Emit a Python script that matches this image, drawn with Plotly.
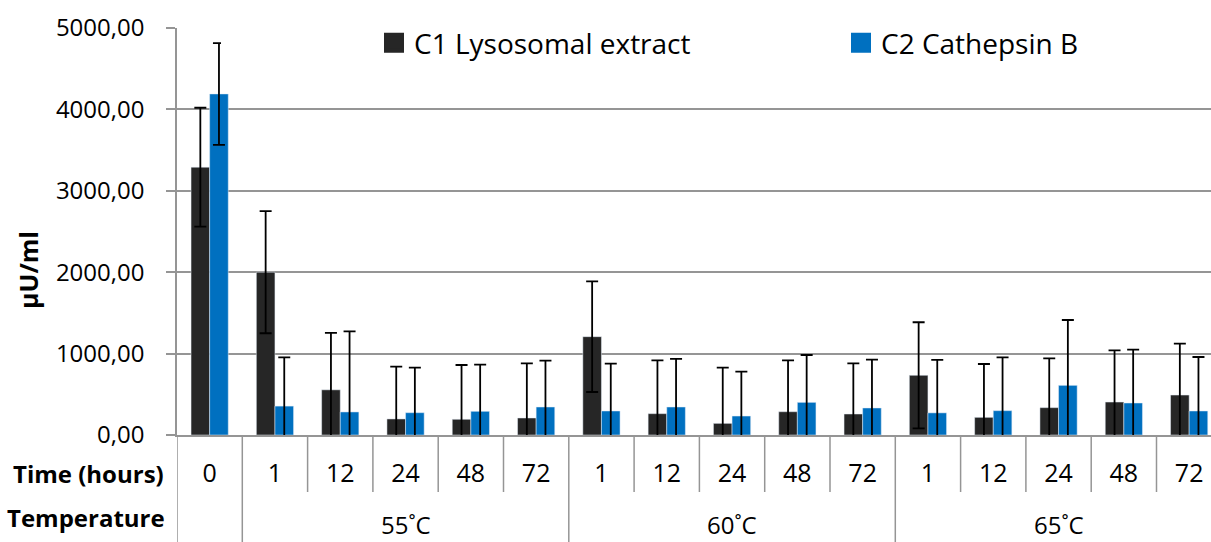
import plotly.graph_objects as go

# ---- data ----
times = ["0", "1", "12", "24", "48", "72", "1", "12", "24", "48", "72", "1", "12", "24", "48", "72"]
temps = ["", "55˚C", "55˚C", "55˚C", "55˚C", "55˚C", "60˚C", "60˚C", "60˚C", "60˚C", "60˚C",
         "65˚C", "65˚C", "65˚C", "65˚C", "65˚C"]
c1_name = "C1 Lysosomal extract"
c2_name = "C2 Cathepsin B"
c1_vals = [3290, 2000, 555, 197, 193, 209, 1208, 262, 143, 286, 258, 733, 217, 336, 405, 491]
c1_err = [730, 750, 700, 642, 667, 672, 680, 655, 684, 631, 623, 652, 655, 606, 635, 631]
c2_vals = [4190, 355, 283, 274, 291, 344, 295, 344, 233, 401, 332, 272, 299, 610, 393, 295]
c2_err = [625, 598, 990, 553, 573, 569, 581, 590, 545, 582, 593, 650, 655, 803, 655, 663]
y_ticks = [0, 1000, 2000, 3000, 4000, 5000]

C1_COLOR = "#262626"
C2_COLOR = "#0070C0"
GRID = "#959595"
FONT = "Open Sans"

W, H = 1211, 542
ML, MR, MT, MB = 177, 0, 28, 107
plot_h = H - MT - MB
plot_w = W - ML - MR
cat_w = 65.3

x_idx = list(range(len(times)))


def py(pix):
    return (H - MB - pix) / plot_h


def px(pix):
    return (pix - ML) / plot_w


fig = go.Figure()
err_style = dict(type="data", visible=True, color="black", thickness=1.8, width=6)
fig.add_trace(go.Bar(x=x_idx, y=c1_vals, name=c1_name, marker_color=C1_COLOR,
                     error_y=dict(array=c1_err, **err_style), showlegend=False))
fig.add_trace(go.Bar(x=x_idx, y=c2_vals, name=c2_name, marker_color=C2_COLOR,
                     error_y=dict(array=c2_err, **err_style), showlegend=False))
# legend entries with larger square swatches
for nm, col, lg in [(c1_name, C1_COLOR, "legend"), (c2_name, C2_COLOR, "legend2")]:
    fig.add_trace(go.Scatter(x=[None], y=[None], mode="markers", name=nm, legend=lg,
                             marker=dict(symbol="square", size=16, color=col,
                                         line=dict(color=col, width=4))))

x_right = (plot_w / cat_w) - 0.5
leg_common = dict(orientation="h", xanchor="left", y=py(43), yanchor="middle",
                  bgcolor="white", font=dict(size=28, family=FONT),
                  entrywidthmode="pixels", itemclick=False)

fig.update_layout(
    width=W, height=H,
    margin=dict(l=ML, r=MR, t=MT, b=MB, pad=0),
    paper_bgcolor="white", plot_bgcolor="white",
    font=dict(family=FONT, size=24, color="black"),
    separators=",.",
    barmode="group", bargap=0.43, bargroupgap=0,
    showlegend=True,
    legend=dict(x=px(221), indentation=153, entrywidth=415, **leg_common),
    legend2=dict(x=px(841), indentation=0, entrywidth=300, **leg_common),
    xaxis=dict(range=[-0.5, x_right], tickmode="array", tickvals=x_idx, ticktext=times,
               ticks="", showgrid=False, zeroline=False, showline=True,
               linecolor=GRID, linewidth=1.5, tickfont=dict(size=25),
               ticklabelstandoff=15),
    yaxis=dict(range=[0, 5000], tickmode="array", tickvals=y_ticks, tickformat=".2f",
               showgrid=True, gridcolor=GRID, gridwidth=1.5, zeroline=False,
               showline=True, linecolor=GRID, linewidth=1.5,
               ticks="outside", ticklen=9, tickcolor=GRID, tickwidth=1.5,
               tickfont=dict(size=24), ticklabelstandoff=17),
)

# axis title
fig.add_annotation(text="<b>µU/ml</b>", xref="paper", yref="paper",
                   x=px(28), y=py(270), xanchor="center", yanchor="middle", textangle=-90,
                   showarrow=False, font=dict(size=25))

# row headers
fig.add_annotation(text="<b>Time (hours)</b>", xref="paper", yref="paper",
                   x=px(166), y=py(473), xanchor="right", yanchor="middle",
                   showarrow=False, font=dict(size=24))
fig.add_annotation(text="<b>Temperature</b>", xref="paper", yref="paper",
                   x=px(167), y=py(517), xanchor="right", yanchor="middle",
                   showarrow=False, font=dict(size=24))

# temperature group labels and dividers
groups = []
for i, t in enumerate(temps):
    if i == 0 or t != temps[i - 1]:
        groups.append([t, i, i])
    else:
        groups[-1][2] = i
for t, a, b in groups:
    if t:
        fig.add_annotation(text=t, xref="x", yref="paper", x=(a + b) / 2, y=py(524),
                           xanchor="center", yanchor="middle", showarrow=False,
                           font=dict(size=24))
    fig.add_shape(type="line", xref="x", yref="paper", x0=a - 0.5, x1=a - 0.5,
                  y0=0, y1=py(H), line=dict(color=GRID, width=1.5))
    for k in range(a, b):
        fig.add_shape(type="line", xref="x", yref="paper", x0=k + 0.5, x1=k + 0.5,
                      y0=0, y1=py(492), line=dict(color=GRID, width=1.5))

fig.write_html("out.html")
